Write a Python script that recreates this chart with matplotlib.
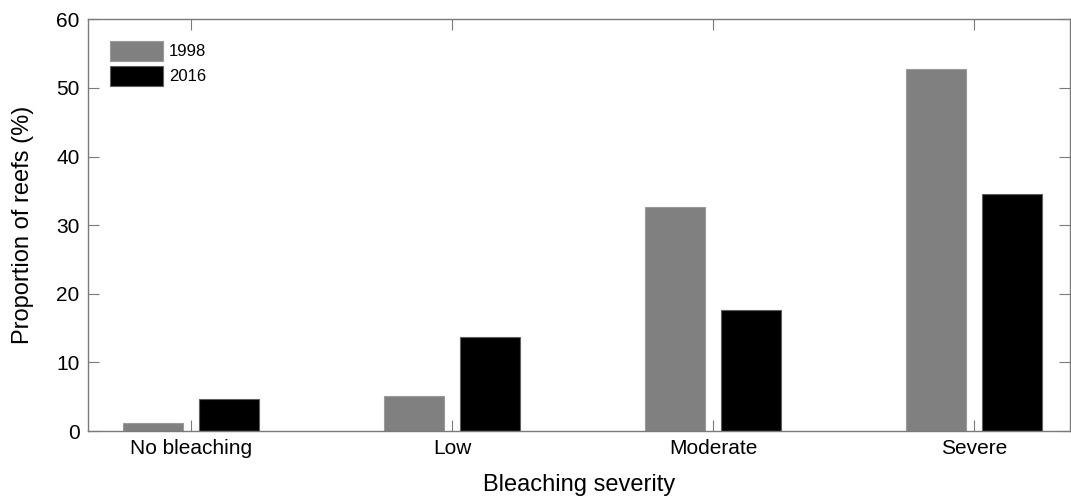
import numpy as np
import matplotlib.pyplot as plt

plt.rcParams['font.family'] = ['Liberation Sans', 'DejaVu Sans']

# Proportion of reefs in each bleaching class, 1998 vs 2016
categories = ["No bleaching", "Low", "Moderate", "Severe"]
years = ["1998", "2016"]
vals_1998 = [1.2, 5.1, 32.6, 52.7]
vals_2016 = [4.7, 13.7, 17.6, 34.5]

x = np.arange(1, len(categories) + 1)
w = 0.23
off = 0.145

fig = plt.figure(figsize=(10.71, 4.96), dpi=100)
ax = fig.add_axes([0.0822, 0.131, 0.9168, 0.830])

ax.bar(x - off, vals_1998, width=w, color="#808080", edgecolor="#9a9a9a",
       linewidth=0.8, label=years[0])
ax.bar(x + off, vals_2016, width=w, color="black", edgecolor="#606060",
       linewidth=0.8, label=years[1])

ax.set_xlim(0.605, 4.368)
ax.set_ylim(0, 60)
ax.set_xticks(x)
ax.set_xticklabels(categories)
ax.set_yticks(np.arange(0, 61, 10))

for s in ax.spines.values():
    s.set_color("#7a7a7a")
    s.set_linewidth(1.0)
ax.tick_params(direction="in", length=8, width=0.8, color="#7a7a7a",
               top=True, right=True, labelsize=15, pad=6)

ax.set_xlabel("Bleaching severity", fontsize=17, labelpad=11)
ax.set_ylabel("Proportion of reefs (%)", fontsize=17, labelpad=16)

ax.legend(loc="upper left", frameon=False, fontsize=12,
          handlelength=3.2, handleheight=1.45, handletextpad=0.35,
          labelspacing=0.3, borderaxespad=0.9)

fig.savefig("out.png", dpi=100)
